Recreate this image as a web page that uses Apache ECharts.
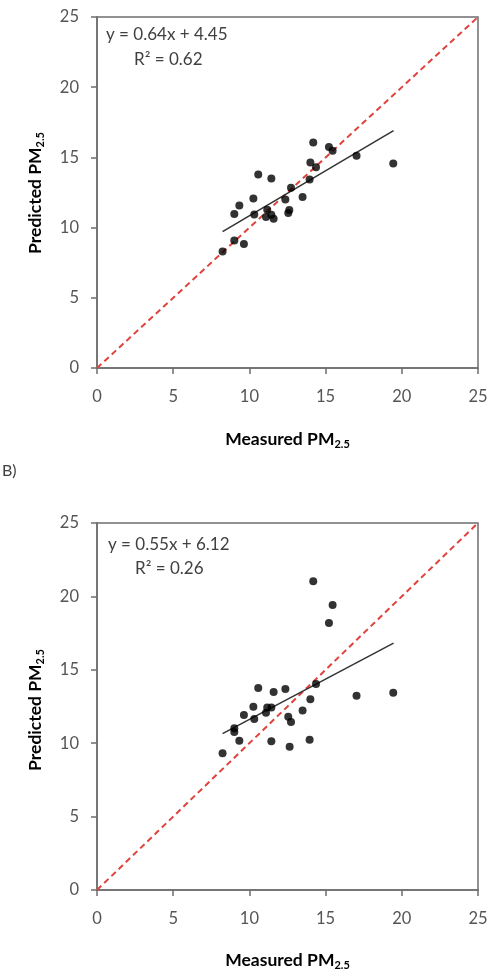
<!DOCTYPE html>
<html>
<head>
<meta charset="utf-8">
<script src="https://cdn.jsdelivr.net/npm/echarts@6/dist/echarts.min.js"></script>
<style>
html, body { margin: 0; padding: 0; background: #fff; }
#main { width: 491px; height: 972px; }
</style>
</head>
<body>
<div id="main"></div>
<script>
// 坐标刻度
var ticks = [0, 5, 10, 15, 20, 25];

// A) 实测 vs 预测
var measuredA = [8.24, 9.01, 9.64, 9.01, 9.34, 10.26, 10.32, 10.58, 11.44, 11.09, 11.17, 11.44, 11.59,
	12.36, 12.73, 12.62, 12.55, 13.49, 13.95, 14.0, 14.19, 14.37, 15.22, 15.46, 17.03, 19.44];
var predictedA = [8.30, 9.09, 8.83, 10.97, 11.58, 12.08, 10.94, 13.79, 13.50, 10.75, 11.27, 10.92, 10.63,
	12.01, 12.84, 11.25, 11.04, 12.18, 13.43, 14.64, 16.07, 14.29, 15.74, 15.48, 15.12, 14.57];
var trendA = [[8.24, 9.72], [19.46, 16.90]];

// B) 实测 vs 预测
var measuredB = [8.24, 9.01, 9.01, 9.34, 9.64, 10.26, 10.32, 10.58, 11.09, 11.17, 11.44, 11.44, 11.59,
	12.36, 12.55, 12.73, 12.64, 13.49, 13.95, 14.0, 14.19, 14.37, 15.22, 15.46, 17.03, 19.44];
var predictedB = [9.31, 10.76, 11.01, 10.17, 11.92, 12.49, 11.65, 13.76, 12.08, 12.44, 12.44, 10.13, 13.49,
	13.69, 11.81, 11.44, 9.76, 12.22, 10.24, 12.99, 21.03, 14.03, 18.19, 19.41, 13.24, 13.44];
var trendB = [[8.24, 10.65], [19.46, 16.82]];

// 1:1 参考线
var oneToOne = [[0, 0], [25, 25]];

var textFont = 'Lato';
var textColor = '#404040';

function pairs(xs, ys) {
	var out = [];
	for (var i = 0; i < xs.length; i++) {
		out.push([xs[i], ys[i]]);
	}
	return out;
}

function makeXAxis(idx) {
	return {
		gridIndex : idx,
		type : 'value',
		min : ticks[0],
		max : ticks[ticks.length - 1],
		interval : 5,
		axisLine : { show : true, lineStyle : { color : '#6e6e6e', width : 1.5 } },
		axisTick : { show : true, inside : false, length : 6, lineStyle : { color : '#6e6e6e', width : 1.5 } },
		axisLabel : { margin : 20, fontSize : 16.5, fontFamily : textFont, color : '#555' },
		splitLine : { show : false }
	};
}
function makeYAxis(idx) {
	return {
		gridIndex : idx,
		type : 'value',
		min : ticks[0],
		max : ticks[ticks.length - 1],
		interval : 5,
		axisLine : { show : true, lineStyle : { color : '#6e6e6e', width : 1.5 } },
		axisTick : { show : true, inside : false, length : 6, lineStyle : { color : '#6e6e6e', width : 1.5 } },
		axisLabel : { margin : 18, fontSize : 16.5, fontFamily : textFont, color : '#555' },
		splitLine : { show : false }
	};
}
function makeSeries(idx, xs, ys, trend) {
	return [{
		type : 'line',
		xAxisIndex : idx,
		yAxisIndex : idx,
		data : oneToOne,
		symbol : 'none',
		silent : true,
		lineStyle : { color : '#e0423c', width : 2, type : [6, 4] },
		z : 1
	}, {
		type : 'line',
		xAxisIndex : idx,
		yAxisIndex : idx,
		data : trend,
		symbol : 'none',
		silent : true,
		lineStyle : { color : '#333', width : 1.5 },
		z : 2
	}, {
		type : 'scatter',
		xAxisIndex : idx,
		yAxisIndex : idx,
		data : pairs(xs, ys),
		symbolSize : 8,
		itemStyle : { color : '#000' },
		z : 3
	}];
}

var richSub = {
	m : { fontSize : 17.5, fontWeight : 'bold', fontFamily : textFont, color : textColor, lineHeight : 22 },
	s : { fontSize : 11, fontWeight : 'bold', fontFamily : textFont, color : textColor, lineHeight : 22, padding : [11, 0, 0, 0] }
};

function xTitle(cy) {
	return {
		type : 'text',
		x : 287.5,
		y : cy,
		style : {
			text : '{m|Measured PM}{s|2.5}',
			rich : richSub,
			align : 'center',
			verticalAlign : 'middle'
		}
	};
}
function yTitle(cy) {
	return {
		type : 'text',
		x : 35,
		y : cy,
		rotation : Math.PI / 2,
		style : {
			text : '{m|Predicted PM}{s|2.5}',
			rich : richSub,
			align : 'center',
			verticalAlign : 'middle'
		}
	};
}
function eqText(x, y, str) {
	return {
		type : 'text',
		x : x,
		y : y,
		style : {
			text : str,
			fontSize : 17,
			fontFamily : textFont,
			fill : textColor,
			verticalAlign : 'middle'
		}
	};
}

var myChart = echarts.init(document.getElementById('main'));
var option = {
	animation : false,
	backgroundColor : '#fff',
	grid : [{
		left : 97, top : 17, width : 381, height : 351,
		show : true, borderColor : '#6e6e6e', borderWidth : 1.5, backgroundColor : 'transparent'
	}, {
		left : 97, top : 523, width : 381, height : 367,
		show : true, borderColor : '#6e6e6e', borderWidth : 1.5, backgroundColor : 'transparent'
	}],
	xAxis : [makeXAxis(0), makeXAxis(1)],
	yAxis : [makeYAxis(0), makeYAxis(1)],
	series : makeSeries(0, measuredA, predictedA, trendA).concat(makeSeries(1, measuredB, predictedB, trendB)),
	graphic : [
		xTitle(439),
		xTitle(960),
		yTitle(193),
		yTitle(710),
		eqText(106, 35, 'y = 0.64x + 4.45'),
		eqText(134, 60, 'R² = 0.62'),
		eqText(108, 545, 'y = 0.55x + 6.12'),
		eqText(135, 569, 'R² = 0.26'),
		{
			type : 'text', x : 2, y : 471,
			style : { text : 'B)', fontSize : 16, fontFamily : textFont, fill : textColor, verticalAlign : 'middle' }
		}
	]
};
myChart.setOption(option);
</script>
</body>
</html>
